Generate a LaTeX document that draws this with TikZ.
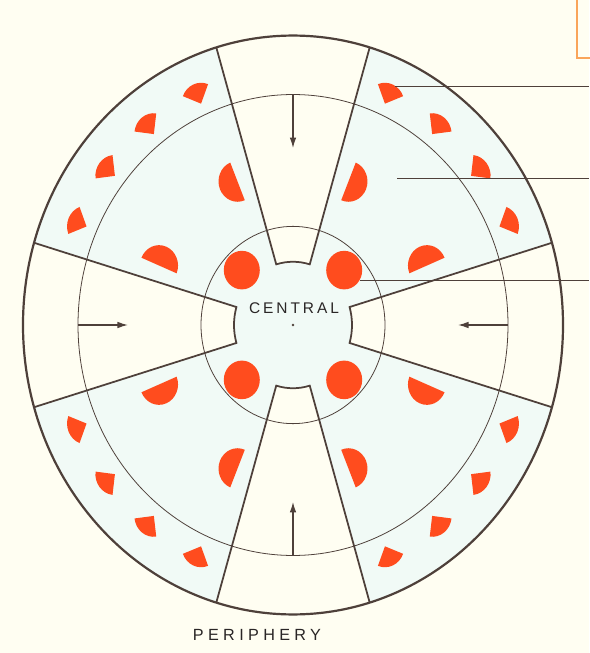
\documentclass[tikz,border=0pt]{standalone}
\usepackage{fontspec}
\setsansfont{Liberation Sans}
\newfontfamily\cntfont[LetterSpace=19]{Liberation Sans}
\newfontfamily\perfont[LetterSpace=27]{Liberation Sans}
\usetikzlibrary{arrows.meta}
\definecolor{paper}{RGB}{255,254,242}
\definecolor{tint}{RGB}{241,250,246}
\definecolor{ink}{RGB}{78,64,58}
\definecolor{txt}{RGB}{42,38,38}
\definecolor{spot}{RGB}{255,76,30}
\definecolor{boxline}{RGB}{250,165,90}

\begin{document}
\begin{tikzpicture}[
  x=0.2mm, y=0.2mm,
  rim/.style   = {draw=ink, line width=1.25pt},
  ring/.style  = {draw=ink, line width=0.45pt},
  spoke/.style = {draw=ink, line width=1pt, line join=miter},
  ar/.style    = {-{Latex[length=6pt,width=3.8pt]}, draw=ink, line width=0.8pt},
  lead/.style  = {draw=ink, line width=0.5pt},
  lbl/.style   = {text=txt, inner sep=0pt}
]

% ---------- page -----------------------------------------------------
\fill[paper] (-293,-328) rectangle (296,325);
\useasboundingbox (-293,-328) rectangle (296,325);

% ---------- wheel (scan is a bit taller than wide) --------------------
\begin{scope}[yscale=1.072]
  \fill[tint] (0,0) circle (270);
  \foreach \a in {0,90,180,270}{
    \fill[paper] (\a-16.5:59) arc[start angle=\a-16.5, end angle=\a+16.5, radius=59]
      -- (\a+16.5:270) arc[start angle=\a+16.5, end angle=\a-16.5, radius=270] -- cycle;}

  \draw[ring] (0,0) circle (215);
  \draw[ring] (0,0) circle (92);

  \foreach \a in {0,90,180,270}{
    \draw[spoke] (\a-16.5:270) -- (\a-16.5:59)
      arc[start angle=\a-16.5, end angle=\a+16.5, radius=59] -- (\a+16.5:270);}

  % central spots
  \foreach \a in {45,135,225,315}{\fill[spot] (\a:72.4) circle (18);}

  % half discs, flat side radial
  \foreach \a/\s in {22.5/1, 67.5/-1, 112.5/1, 157.5/-1, 202.5/1, 247.5/-1, 292.5/1, 337.5/-1}{
    \fill[spot] (\a:164) arc[start angle=\a, delta angle=180*\s, radius=19] -- cycle;}

  % quarter discs in the outer ring, tip to the centre
  \foreach \d in {45,135,225,315}{
    \foreach \o in {-21,-7,7,21}{
      \pgfmathsetmacro{\b}{\d+\o}
      \fill[spot] (\b:226) -- ++(\b-45:19.5) arc[start angle=\b-45, end angle=\b+45, radius=19.5] -- cycle;}}

  % inward arrows
  \foreach \a in {0,90,180,270}{
    \coordinate (p\a) at (\a:215);
    \coordinate (q\a) at (\a:165);
    \draw[ar] (p\a) -- (q\a);}

  \draw[rim] (0,0) circle (270);
  \fill[ink] (0,0) circle (1.3);
\end{scope}

% ---------- leaders to the right margin ------------------------------
\coordinate (l1) at (102,239);
\coordinate (l2) at (104,147);
\coordinate (l3) at (67,45);
\coordinate (edge) at (296,0);
\foreach \n in {l1,l2,l3}{\draw[lead] (\n) -- (\n -| edge);}

% ---------- labels ---------------------------------------------------
\node[lbl, font=\cntfont\fontsize{8.8}{10}\selectfont] (central) at (1,17) {CENTRAL};
\node[lbl, font=\perfont\fontsize{9.2}{11}\selectfont] (periphery) at (-36,-310) {PERIPHERY};

% ---------- cut-off box, top right -----------------------------------
\draw[boxline, line width=0.9pt] (300,267) -| (284,330);

\end{tikzpicture}
\end{document}
